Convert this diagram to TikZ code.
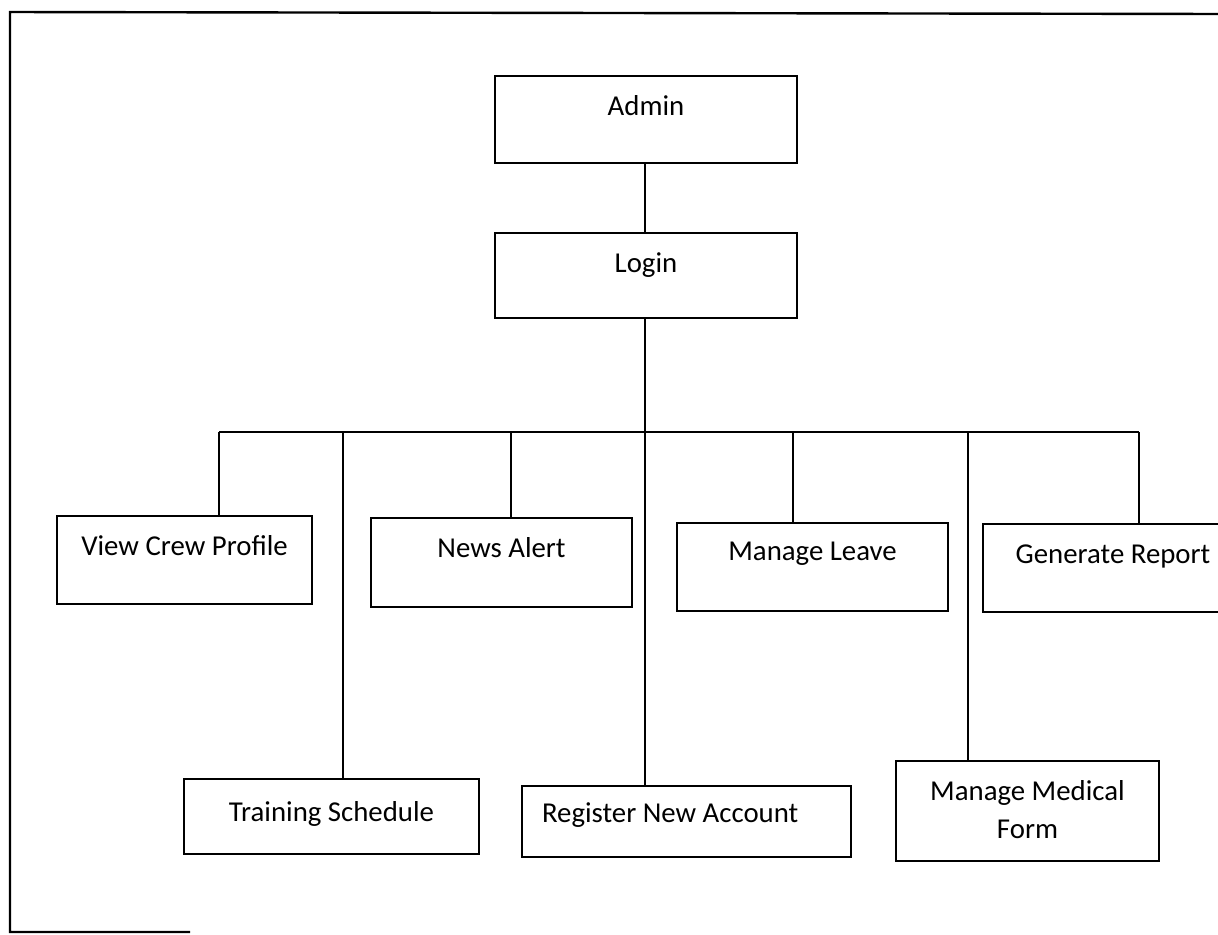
\documentclass[tikz,border=0pt]{standalone}
\usepackage{fontspec}
\setmainfont{Carlito}

\begin{document}
\begin{tikzpicture}[x=0.5pt, y=-0.5pt,
  box/.style={draw, line width=1pt, inner sep=0pt, anchor=north west,
    align=center, text height=19.5pt, font=\fontsize{14.4}{19}\selectfont},
  link/.style={line width=1pt}]

  \useasboundingbox (0,0) rectangle (1218,934);

  % outer frame (open on the right)
  \draw[line width=1.2pt] (1230,14) -- (10,12) -- (10,932) -- (190,932);

  % top of the tree
  \node[box, minimum width=151pt, text depth=24pt] (admin) at (494,75) {Admin};
  \node[box, minimum width=151pt, text depth=23pt] (login) at (494,232) {Login};

  % first row
  \node[box, minimum width=127.5pt, text depth=24.5pt] (crew) at (56,515) {View Crew Profile};
  \node[box, minimum width=130.5pt, text depth=25pt] (news) at (370,517) {News Alert};
  \node[box, minimum width=135.5pt, text depth=25.5pt, text height=18.5pt] (leave) at (676,522) {Manage Leave};
  \node[box, minimum width=130pt, text depth=24.5pt] (report) at (982,523) {Generate Report};

  % second row
  \node[box, inner xsep=10pt, text width=144.5pt, align=flush left, text depth=17.5pt, text height=18pt] (register) at (521,785) {Register New Account};
  \node[box, minimum width=147.5pt, text depth=16.5pt, text height=21pt] (training) at (183,778) {Training Schedule};
  \node[box, minimum width=131.5pt, text depth=11.5pt, text height=38.5pt] (medical) at (895,760) {Manage Medical\\Form};

  % taps on the bus line
  \coordinate (tcrew) at (219,432);
  \coordinate (ttraining) at (343,432);
  \coordinate (tnews) at (511,432);
  \coordinate (tleave) at (793,432);
  \coordinate (tmedical) at (968,432);
  \coordinate (treport) at (1139,432);

  \draw[link] (admin.south -| 645,0) -- (login.north -| 645,0);
  \draw[link] (login.south -| 645,0) -- (register.north -| 645,0);
  \draw[link] (tcrew) -- (treport);

  \foreach \t/\b in {tcrew/crew, ttraining/training, tnews/news,
                     tleave/leave, tmedical/medical, treport/report}
    \draw[link] (\t) -- (\t |- \b.north);

\end{tikzpicture}
\end{document}
